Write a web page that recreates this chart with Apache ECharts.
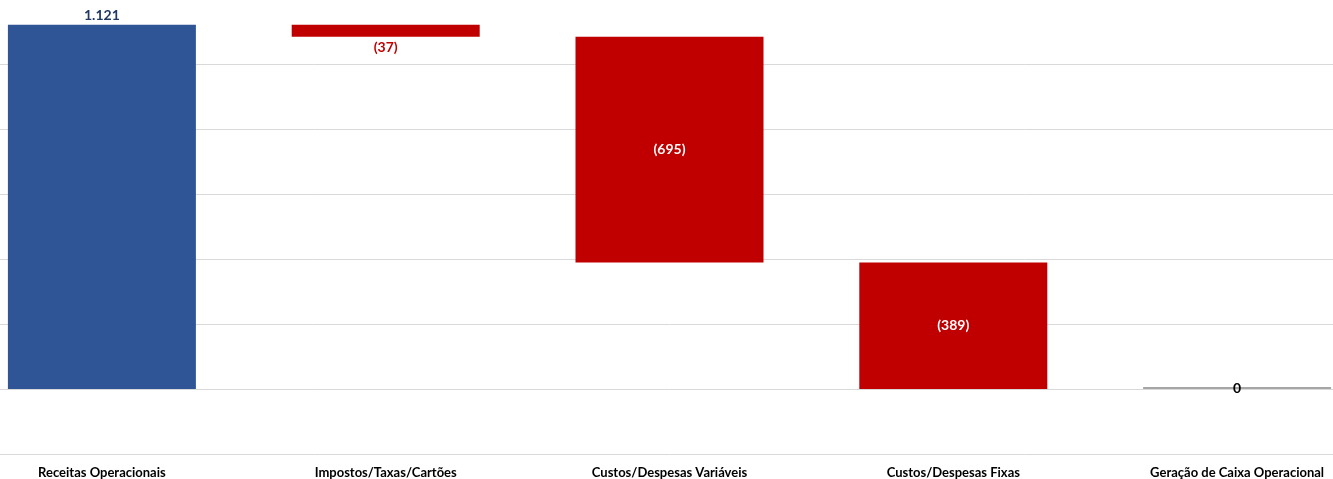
<!DOCTYPE html>
<html>
<head>
<meta charset="utf-8">
<script src="https://cdn.jsdelivr.net/npm/echarts@6/dist/echarts.min.js"></script>
<style>
html,body{margin:0;padding:0;background:#fff;overflow:hidden;width:1333px;height:479px;position:relative;}
#c{position:absolute;left:-40px;top:-1px;width:1419px;height:480px;}
</style>
</head>
<body>
<div id="c"></div>
<script>
const categories = ['Receitas Operacionais', 'Impostos/Taxas/Cartões', 'Custos/Despesas Variáveis', 'Custos/Despesas Fixas', 'Geração de Caixa Operacional'];
const values = [1121, -37, -695, -389, 0];
const isTotal = [false, false, false, false, true];
const yMin = -200, yMax = 1200, yStep = 200;

function fmt(v) {
  const s = Math.abs(v).toLocaleString('pt-BR');
  return v < 0 ? '(' + s + ')' : s;
}

const baseData = [], deltaData = [], totalData = [];
let run = 0;
values.forEach((v, i) => {
  if (isTotal[i]) {
    baseData.push('-');
    deltaData.push('-');
    totalData.push({ value: run, raw: run });
    return;
  }
  totalData.push('-');
  const lo = Math.min(run, run + v);
  baseData.push(lo);
  let label;
  if (i === 0) label = { position: 'top', color: '#1f3864', distance: 2 };
  else if (Math.abs(v) < 100) label = { position: 'bottom', color: '#c00000', distance: 4 };
  else label = { position: 'inside', color: '#ffffff' };
  deltaData.push({
    value: Math.abs(v),
    raw: v,
    itemStyle: { color: v >= 0 ? '#2f5597' : '#c00000' },
    label: label
  });
  run += v;
});

const chart = echarts.init(document.getElementById('c'));
chart.setOption({
  animation: false,
  textStyle: { fontFamily: 'Lato' },
  grid: { left: 0, right: 0, top: 0, bottom: 24 },
  xAxis: {
    type: 'category',
    data: categories,
    axisLine: { show: false },
    axisTick: { show: false },
    axisLabel: { fontSize: 13, fontWeight: 'bold', color: '#000', margin: 12, interval: 0, fontFamily: 'Lato' }
  },
  yAxis: {
    type: 'value',
    min: yMin, max: yMax, interval: yStep,
    axisLabel: { show: false },
    axisLine: { show: false },
    axisTick: { show: false },
    splitLine: { lineStyle: { color: '#d9d9d9', width: 1 } }
  },
  series: [
    {
      type: 'bar', stack: 'w', data: baseData, barWidth: 188,
      itemStyle: { color: 'transparent' }, silent: true
    },
    {
      type: 'bar', stack: 'w', data: deltaData, barWidth: 188,
      label: {
        show: true, fontSize: 14, fontWeight: 'bold', fontFamily: 'Lato',
        formatter: p => fmt(p.data.raw)
      }
    },
    {
      type: 'bar', stack: 'w', data: totalData, barWidth: 188, barMinHeight: 2,
      itemStyle: { color: '#a6a6a6' },
      label: {
        show: true, position: 'inside', color: '#000', fontSize: 14, fontWeight: 'bold', fontFamily: 'Lato',
        formatter: p => fmt(p.data.raw)
      }
    }
  ]
});
</script>
</body>
</html>
